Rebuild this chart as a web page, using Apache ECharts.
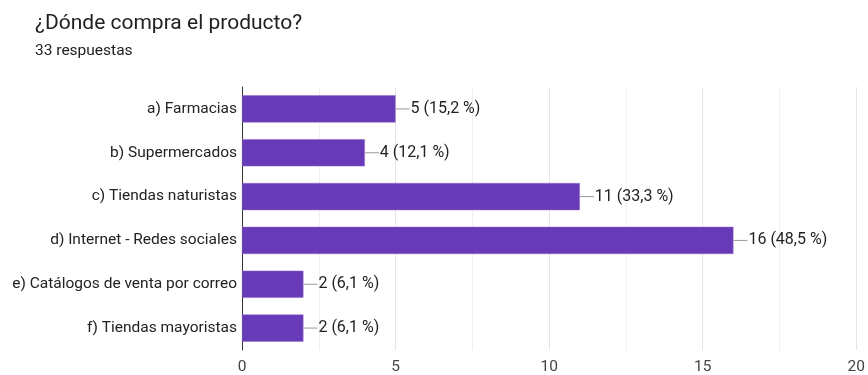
<!DOCTYPE html>
<html>
<head>
<meta charset="utf-8">
<script src="https://cdn.jsdelivr.net/npm/echarts@6/dist/echarts.min.js"></script>
<style>
html,body{margin:0;padding:0;background:#fff;}
#chart{width:868px;height:375px;}
</style>
</head>
<body>
<div id="chart"></div>
<script>
// datos de la encuesta
var categorias = [
	'a) Farmacias',
	'b) Supermercados',
	'c) Tiendas naturistas',
	'd) Internet - Redes sociales',
	'e) Catálogos de venta por correo',
	'f) Tiendas mayoristas'
];
var respuestas = [5, 4, 11, 16, 2, 2];
var porcentajes = ['15,2', '12,1', '33,3', '48,5', '6,1', '6,1'];
var totalRespuestas = 33;
var ticksX = [0, 5, 10, 15, 20];

var myChart = echarts.init(document.getElementById('chart'));

var option = {
	animation: false,
	textStyle: {fontFamily: 'Roboto'},
	title: {
		text: '¿Dónde compra el producto?',
		subtext: totalRespuestas + ' respuestas',
		left: 30,
		top: 8,
		itemGap: 9,
		textStyle: {fontSize: 21, fontWeight: 'normal', color: '#212121', fontFamily: 'Roboto'},
		subtextStyle: {fontSize: 15.5, color: '#212121', fontFamily: 'Roboto'}
	},
	grid: {left: 242, right: 10, top: 87, bottom: 24, containLabel: false},
	xAxis: {
		type: 'value',
		min: ticksX[0],
		max: ticksX[ticksX.length - 1],
		interval: 5,
		axisLine: {show: false},
		axisTick: {show: false},
		axisLabel: {fontSize: 15.5, color: '#444', margin: 9},
		splitLine: {show: true, lineStyle: {color: '#e6e6e6'}},
		minorTick: {show: false, splitNumber: 2},
		minorSplitLine: {show: true, lineStyle: {color: '#f0f0f0'}}
	},
	yAxis: {
		type: 'category',
		inverse: true,
		data: categorias,
		axisLine: {show: true, lineStyle: {color: '#333', width: 1}},
		axisTick: {show: false},
		axisLabel: {fontSize: 15.5, color: '#222', margin: 5}
	},
	series: [{
		type: 'bar',
		data: respuestas,
		barCategoryGap: '38%',
		itemStyle: {color: '#673ab7', borderColor: '#8e6acb', borderWidth: 0.5},
		label: {
			show: true,
			position: 'right',
			distance: 0,
			formatter: function(p){
				return '{l|}{t|' + p.value + ' (' + porcentajes[p.dataIndex] + ' %)}';
			},
			rich: {
				l: {width: 14, height: 1, backgroundColor: '#999'},
				t: {fontSize: 16, color: '#222', padding: [0, 0, 0, 1]}
			}
		}
	}]
};

myChart.setOption(option);
</script>
</body>
</html>
